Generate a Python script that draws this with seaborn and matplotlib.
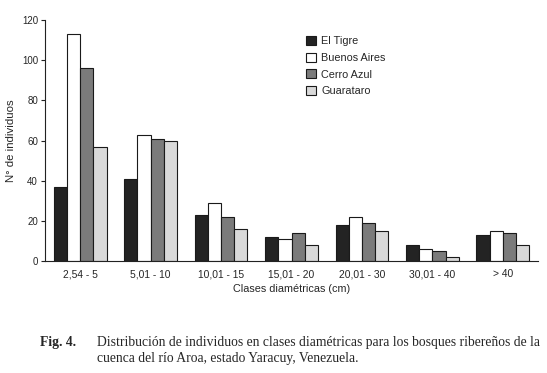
import matplotlib
matplotlib.use("Agg")
import matplotlib.pyplot as plt
import seaborn as sns
import pandas as pd
from matplotlib.patches import Patch

categories = ["2,54 - 5", "5,01 - 10", "10,01 - 15", "15,01 - 20", "20,01 - 30", "30,01 - 40", "> 40"]
sites = ["El Tigre", "Buenos Aires", "Cerro Azul", "Guarataro"]
el_tigre = [37, 41, 23, 12, 18, 8, 13]
buenos_aires = [113, 63, 29, 11, 22, 6, 15]
cerro_azul = [96, 61, 22, 14, 19, 5, 14]
guarataro = [57, 60, 16, 8, 15, 2, 8]
yticks = [0, 20, 40, 60, 80, 100, 120]

colors = ["#232323", "#ffffff", "#7b7b7b", "#d9d9d9"]

rows = []
for site, vals in zip(sites, [el_tigre, buenos_aires, cerro_azul, guarataro]):
    for c, v in zip(categories, vals):
        rows.append({"clase": c, "sitio": site, "n": v})
df = pd.DataFrame(rows)

sns.set_style("white")
plt.rcParams['font.family'] = ['Liberation Sans', 'DejaVu Sans']

fig = plt.figure(figsize=(5.47, 3.73), dpi=100)
ax = fig.add_axes([45 / 547, 0.300, 493 / 547, 0.646])

sns.barplot(data=df, x="clase", y="n", hue="sitio", order=categories, hue_order=sites,
            palette=colors, width=0.75, gap=0, edgecolor="#1a1a1a", linewidth=0.8,
            errorbar=None, ax=ax, legend=False)

ax.set_xlim(-0.5, len(categories) - 0.5)
ax.set_ylim(0, 120)
ax.set_yticks(yticks)
ax.set_yticklabels([str(t) for t in yticks], fontsize=7)
ax.set_xticks(range(len(categories)))
ax.set_xticklabels(categories, fontsize=7.4)
ax.tick_params(axis="x", which="major", length=0, pad=6)
ax.set_xticks([i + 0.5 for i in range(len(categories))], minor=True)
ax.tick_params(axis="x", which="minor", length=3, width=0.8, direction="out", color="#222222")
ax.tick_params(axis="y", length=3, width=0.8, direction="out", color="#222222", pad=2, left=True)
for s in ["top", "right"]:
    ax.spines[s].set_visible(False)
for s in ["left", "bottom"]:
    ax.spines[s].set_color("#222222")
    ax.spines[s].set_linewidth(0.8)

ax.set_xlabel("Clases diamétricas (cm)", fontsize=7.8, labelpad=3)
ax.set_ylabel("N° de individuos", fontsize=8.2, labelpad=4)

handles = [Patch(facecolor=c, edgecolor="#1a1a1a", linewidth=0.8, label=s) for c, s in zip(colors, sites)]
ax.legend(handles=handles, loc="upper left", bbox_to_anchor=(0.51, 0.975), frameon=False,
          fontsize=7.8, handlelength=0.9, handleheight=0.9, handletextpad=0.5, labelspacing=0.6)

fig.text(40 / 547, 1 - 346 / 373, "Fig. 4.", fontfamily="Liberation Serif", fontweight="bold",
         fontsize=9.8, va="baseline", ha="left")
fig.text(97 / 547, 1 - 346 / 373,
         "Distribución de individuos en clases diamétricas para los bosques ribereños de la",
         fontfamily="Liberation Serif", fontsize=9.8, va="baseline", ha="left")
fig.text(97 / 547, 1 - 362 / 373, "cuenca del río Aroa, estado Yaracuy, Venezuela.",
         fontfamily="Liberation Serif", fontsize=9.8, va="baseline", ha="left")

fig.savefig("out.png", dpi=100)
